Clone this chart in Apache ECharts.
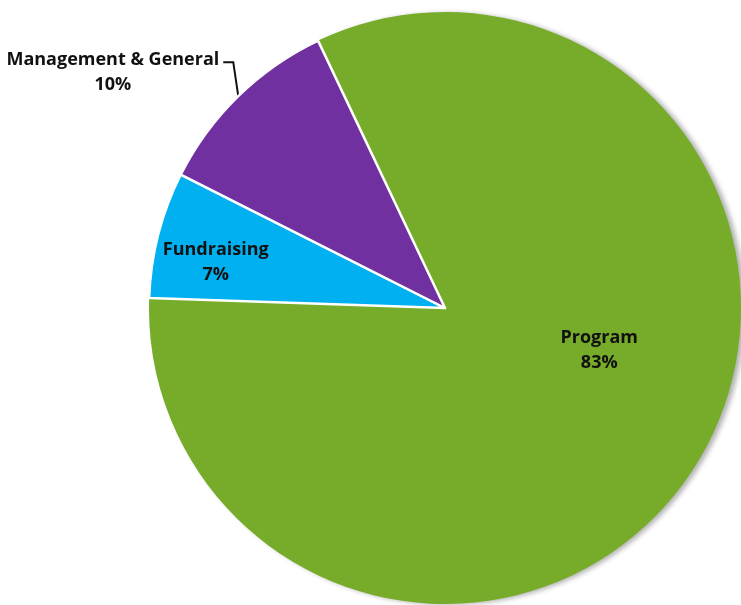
<!DOCTYPE html>
<html>
<head>
<meta charset="utf-8">
<script src="https://cdn.jsdelivr.net/npm/echarts@6/dist/echarts.min.js"></script>
<style>html,body{margin:0;padding:0;background:#fff}#c{width:741px;height:605px}</style>
</head>
<body>
<div id="c"></div>
<script>
const categories = ['Program', 'Fundraising', 'Management & General'];
const values = [82.6, 6.9, 10.5];
const colors = ['#77AC2A', '#00B0F0', '#7030A0'];

const chart = echarts.init(document.getElementById('c'), null, {renderer: 'canvas'});
const labelFont = {fontFamily: '"Open Sans", sans-serif', fontWeight: 'bold', fontSize: 18, color: '#111', lineHeight: 25};

const labelCfg = [
  {position: 'inside', offset: [28, -40]},
  {position: 'inside', offset: [-83, -8]},
  {position: 'outside'}
];

chart.setOption({
  animation: false,
  series: [{
    type: 'pie',
    center: [445, 308],
    radius: 296,
    startAngle: 115.4,
    clockwise: true,
    percentPrecision: 0,
    avoidLabelOverlap: false,
    itemStyle: {borderColor: '#fff', borderWidth: 2.5},
    label: Object.assign({show: true, formatter: '{b}\n{d}%'}, labelFont),
    labelLine: {show: true, lineStyle: {color: '#111', width: 2}, length: 20, length2: 10},
    labelLayout: function (p) {
      if (p.dataIndex !== 2 || !p.labelLinePoints) return {};
      const p0 = p.labelLinePoints[0];
      const p1 = [p0[0] - 5, p0[1] - 34];
      const p2 = [p1[0] - 10, p1[1]];
      return {
        x: p2[0] - 4 - p.labelRect.width / 2,
        y: p2[1] + 10,
        align: 'center',
        verticalAlign: 'middle',
        labelLinePoints: [p0, p1, p2]
      };
    },
    data: categories.map((n, i) => ({
      name: n,
      value: values[i],
      itemStyle: Object.assign({color: colors[i]}, i === 0 ? {borderWidth: 0, shadowBlur: 5, shadowColor: 'rgba(0,0,0,0.3)', shadowOffsetX: 4, shadowOffsetY: 1} : {}),
      label: labelCfg[i],
      labelLine: {show: i === 2}
    }))
  }]
});
</script>
</body>
</html>
